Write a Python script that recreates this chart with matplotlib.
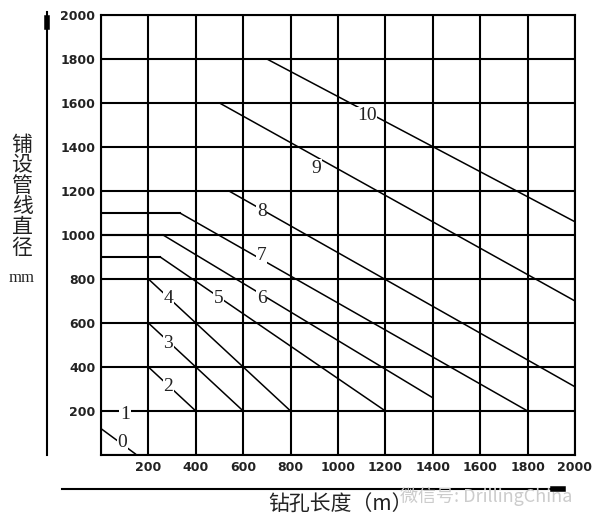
import matplotlib.pyplot as plt
from matplotlib.lines import Line2D

plt.rcParams['font.family'] = ['Noto Sans CJK SC', 'DejaVu Sans']

# 坐标刻度
x_ticks = list(range(0, 2001, 200))
y_ticks = list(range(0, 2001, 200))

# 各曲线 (编号 0-10) 的折点
curve_names = ['0', '1', '2', '3', '4', '5', '6', '7', '8', '9', '10']
curve_x = [
    [0, 145],
    [0, 200],
    [200, 400],
    [200, 600],
    [200, 800],
    [0, 250, 1200],
    [0, 262, 1400],
    [0, 333, 1800],
    [540, 2000],
    [500, 2000],
    [700, 2000],
]
curve_y = [
    [120, 5],
    [200, 200],
    [400, 200],
    [600, 200],
    [800, 200],
    [900, 900, 200],
    [1000, 1000, 260],
    [1100, 1100, 200],
    [1200, 310],
    [1600, 700],
    [1800, 1060],
]
# 曲线编号的位置
label_x = [91, 101, 284, 284, 284, 495, 678, 678, 678, 910, 1121]
label_y = [56, 182, 311, 508, 712, 712, 712, 909, 1106, 1303, 1541]

W, H = 600, 528
fig = plt.figure(figsize=(W / 100, H / 100), dpi=100)
ax = fig.add_axes([101 / W, 1 - 455 / H, 474 / W, 440 / H])

ax.set_xlim(0, 2000)
ax.set_ylim(0, 2000)
ax.set_xticks(x_ticks)
ax.set_yticks(y_ticks)
ax.set_xticklabels([''] + [str(v) for v in x_ticks[1:]])
ax.set_yticklabels([''] + [str(v) for v in y_ticks[1:]])
ax.tick_params(length=0, labelsize=9, pad=4, labelcolor='#222222')
for lab in ax.get_xticklabels() + ax.get_yticklabels():
    lab.set_fontfamily('DejaVu Sans')
    lab.set_fontweight('bold')
ax.grid(True, color='black', lw=1.5)
for sp in ax.spines.values():
    sp.set_linewidth(1.5)

# 曲线: 水平段粗, 斜线段细
for name, xs, ys in zip(curve_names, curve_x, curve_y):
    if len(xs) == 3:
        ax.plot(xs[:2], ys[:2], color='black', lw=1.5, zorder=3)
    ax.plot(xs[-2:], ys[-2:], color='black', lw=1.1, zorder=3)

for name, lx, ly in zip(curve_names, label_x, label_y):
    ax.text(lx, ly, name, ha='center', va='center', fontsize=14,
            family='Liberation Serif', color='#222222', zorder=5,
            bbox=dict(facecolor='white', edgecolor='none', pad=0.5))

# 纵轴标题 (竖排)
ylabel_chars = list('铺设管线直径')
for i, ch in enumerate(ylabel_chars):
    fig.text(22 / W, 1 - (145 + i * 20.5) / H, ch, ha='center', va='center',
             fontsize=15, fontweight='medium', color='#222222')
fig.text(22 / W, 1 - 278 / H, 'mm', ha='center', va='center', fontsize=12,
         family='Liberation Serif', color='#222222')

# 横轴标题
fig.text(268 / W, 1 - 505 / H, '钻孔长度（m）', ha='left', va='center',
         fontsize=15, fontweight='medium', color='#222222')

# 轴外的箭头线
fig.add_artist(Line2D([47 / W, 47 / W], [1 - 455 / H, 1 - 12 / H],
                      color='black', lw=1.5))
fig.add_artist(Line2D([47 / W, 47 / W], [1 - 27 / H, 1 - 18 / H],
                      color='black', lw=4))
fig.add_artist(Line2D([62 / W, 563 / W], [1 - 489 / H, 1 - 489 / H],
                      color='black', lw=1.5))
fig.add_artist(Line2D([553 / W, 563 / W], [1 - 489 / H, 1 - 489 / H],
                      color='black', lw=4))

# 水印
fig.text(400 / W, 1 - 496 / H, '微信号: DrillingChina', ha='left',
         va='center', fontsize=13, color='#cccccc')

fig.savefig('out.png', dpi=100)
